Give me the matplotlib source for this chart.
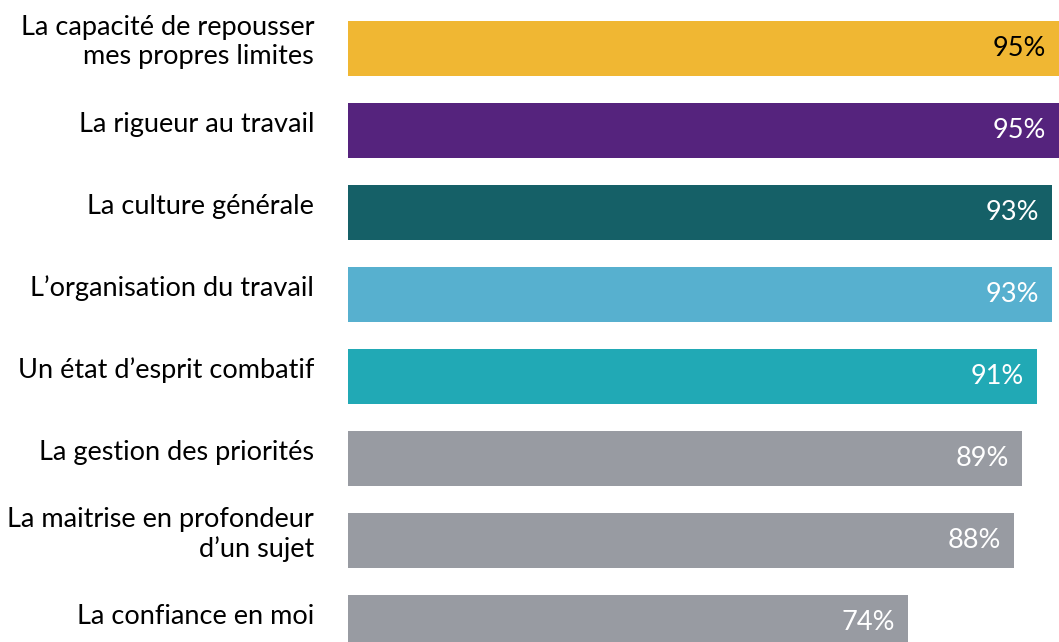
import matplotlib.pyplot as plt

labels = ["La capacité de repousser\nmes propres limites",
          "La rigueur au travail",
          "La culture générale",
          "L\u2019organisation du travail",
          "Un état d\u2019esprit combatif",
          "La gestion des priorités",
          "La maitrise en profondeur\nd\u2019un sujet",
          "La confiance en moi"]
values = [95, 95, 93, 93, 91, 89, 88, 74]
colors = ["#F0B733", "#55237D", "#156067", "#57B0CF", "#21A9B5",
          "#989BA2", "#989BA2", "#989BA2"]
text_colors = ["black"] + ["white"] * 7

plt.rcParams['font.family'] = ['Lato', 'DejaVu Sans']

fig = plt.figure(figsize=(10.59, 6.42), dpi=100)
ax = fig.add_axes([348 / 1059, 0, 711 / 1059, 1])

y = list(range(len(values)))
ax.barh(y, values, height=0.66, color=colors)
xmax = 711 / 7.57
ax.set_xlim(0, xmax)
ax.set_ylim(7.238, -0.591)

for i, v in enumerate(values):
    ax.annotate(f"{v}%", (min(v, xmax), i), xytext=(-13, 0),
                textcoords="offset pixels", ha="right", va="center",
                fontsize=19.5, color=text_colors[i])
    ax.annotate(labels[i], (0, i), xytext=(-34, 6),
                textcoords="offset pixels", ha="right", va="center",
                fontsize=19.5, color="black", linespacing=1.2,
                annotation_clip=False)

ax.axis("off")
fig.savefig("out.png", dpi=100)
